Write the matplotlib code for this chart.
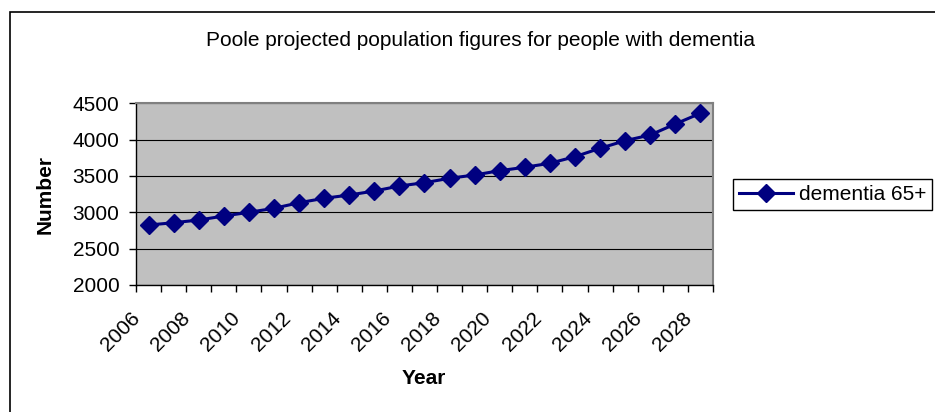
import matplotlib.pyplot as plt
from matplotlib.patches import Rectangle

plt.rcParams['font.family'] = ['Liberation Sans', 'DejaVu Sans']

years = list(range(2006, 2029))
dementia_65 = [2825, 2857, 2894, 2949, 3000, 3055, 3132, 3193, 3238, 3293, 3362, 3408,
               3468, 3514, 3573, 3620, 3675, 3766, 3881, 3986, 4064, 4216, 4363]
tick_years = [str(y) for y in years[::2]]

fig = plt.figure(figsize=(9.35, 4.12), dpi=100)
# chart area border (runs off right and bottom edges)
fig.patches.append(Rectangle((10/935, -0.1), 1.0, 0.1 + (412-12)/412, transform=fig.transFigure,
                             fill=False, edgecolor='black', linewidth=1.2))

ax = fig.add_axes([136/935, 1-285/412, 577/935, (285-103.3)/412])
ax.set_facecolor('#c0c0c0')

x = list(range(len(years)))
ax.plot(x, dementia_65, color='#000080', linewidth=2.2, marker='D', markersize=9.5,
        label='dementia 65+')

ax.set_xlim(-0.5, len(years) - 0.5)
ax.set_ylim(2000, 4500)
ax.set_yticks([2000, 2500, 3000, 3500, 4000, 4500])
ax.yaxis.grid(True, color='black', linewidth=0.8)
ax.set_axisbelow(True)

# category axis: ticks between categories, labels every second year
ax.set_xticks([i - 0.5 for i in range(len(years) + 1)])
ax.set_xticklabels([])
for i, lab in zip(x[::2], tick_years):
    ax.annotate(lab, xy=(i, 0), xycoords=('data', 'axes fraction'), xytext=(-13, -17),
                textcoords='offset points', rotation=45, ha='right', va='top',
                rotation_mode='anchor', fontsize=15)

ax.tick_params(axis='x', direction='out', length=5, width=1)
ax.tick_params(axis='y', direction='out', length=5, width=1, pad=7, labelsize=15)

for side in ['top', 'right']:
    ax.spines[side].set_color('#808080')
    ax.spines[side].set_linewidth(1.5)
for side in ['left', 'bottom']:
    ax.spines[side].set_color('black')
    ax.spines[side].set_linewidth(1)

fig.text(480/935, 1-40/412, 'Poole projected population figures for people with dementia',
         ha='center', va='center', fontsize=15)
fig.text(45/935, 1-194/412, 'Number', rotation=90, ha='center', va='center',
         fontsize=15, fontweight='bold')
fig.text(424/935, 1-378/412, 'Year', ha='center', va='center', fontsize=15, fontweight='bold')

leg = fig.legend(loc='center left', bbox_to_anchor=(733/935, 1-194.5/412), fontsize=15,
                 frameon=True, fancybox=False, edgecolor='black', framealpha=1,
                 handlelength=2.6, handletextpad=0.25, borderpad=0.3, borderaxespad=0)
leg.get_frame().set_linewidth(1)

fig.savefig('out.png', dpi=100)
